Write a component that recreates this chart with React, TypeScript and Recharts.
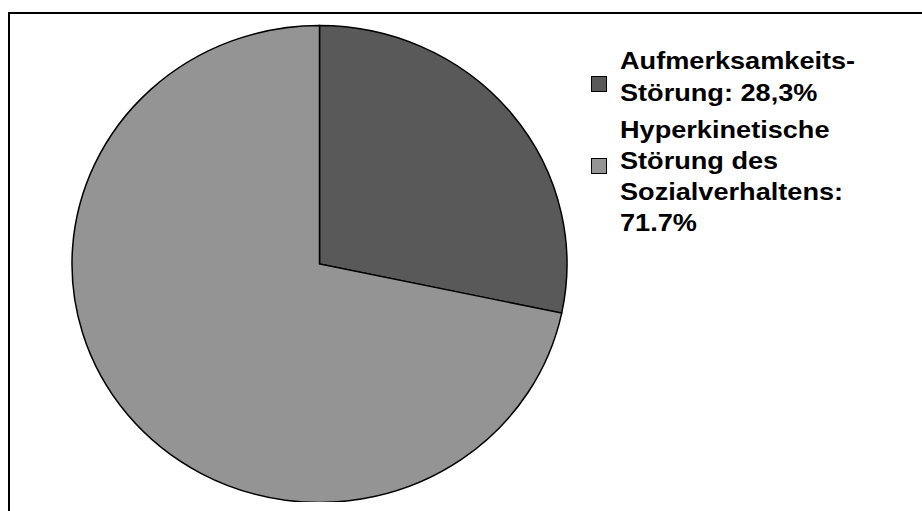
import { PieChart, Pie, Cell } from 'recharts';

const categories = ['Aufmerksamkeits-Störung', 'Hyperkinetische Störung des Sozialverhaltens'];
const shares = [28.3, 71.7];
// legend text exactly as printed, one entry per category
const legendLines = [
  ['Aufmerksamkeits-', 'Störung: 28,3%'],
  ['Hyperkinetische', 'Störung des', 'Sozialverhaltens:', '71.7%'],
];
const colors = ['#595959', '#949494'];

const CX = 319.5;
const CY = 264;
const RX = 247.5;
const RY = 238.5;

const legendTop = [45, 113.5];
const legendLineHeight = [31.5, 31];
const swatchTop = [76, 158];

export default function App() {
  const data = categories.map((name, i) => ({ name, value: shares[i] }));

  return (
    <div
      style={{
        position: 'fixed',
        left: 0,
        top: 0,
        width: 922,
        height: 511,
        overflow: 'hidden',
        background: '#fff',
        fontFamily: '"Liberation Sans", Arial, sans-serif',
      }}
    >
      {/* frame, only top and left edges fall inside the picture */}
      <div
        style={{
          position: 'absolute',
          left: 8,
          top: 12,
          width: 2000,
          height: 2000,
          border: '2px solid #000',
        }}
      />
      {/* the original pie is a little wider than tall */}
      <div
        style={{
          position: 'absolute',
          left: 0,
          top: 0,
          transform: `scaleY(${RY / RX})`,
          transformOrigin: `0 ${CY}px`,
        }}
      >
        <PieChart width={922} height={511} margin={{ top: 0, right: 0, bottom: 0, left: 0 }}>
          <Pie
            data={data}
            dataKey="value"
            cx={CX}
            cy={CY}
            outerRadius={RX}
            startAngle={90}
            endAngle={-270}
            stroke="#000"
            strokeWidth={1.5}
            isAnimationActive={false}
          >
            {data.map((d, i) => (
              <Cell key={d.name} fill={colors[i]} />
            ))}
          </Pie>
        </PieChart>
      </div>
      {legendLines.map((lines, i) => (
        <div key={categories[i]}>
          <div
            style={{
              position: 'absolute',
              left: 591,
              top: swatchTop[i],
              width: 14,
              height: 14,
              background: colors[i],
              border: '1px solid #000',
            }}
          />
          <div
            style={{
              position: 'absolute',
              left: 620,
              top: legendTop[i],
              fontSize: 24,
              fontWeight: 'bold',
              lineHeight: `${legendLineHeight[i]}px`,
              color: '#000',
              whiteSpace: 'nowrap',
              transform: 'scaleX(1.13)',
              transformOrigin: '0 0',
            }}
          >
            {lines.map((l) => (
              <div key={l}>{l}</div>
            ))}
          </div>
        </div>
      ))}
    </div>
  );
}
